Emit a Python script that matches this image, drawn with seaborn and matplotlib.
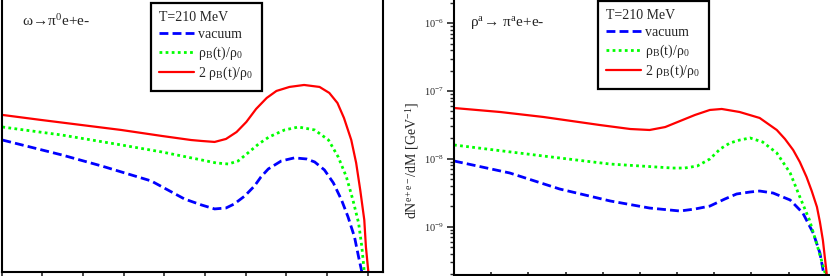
import numpy as np
import pandas as pd
import matplotlib
matplotlib.use('Agg')
import matplotlib.pyplot as plt
from matplotlib.lines import Line2D
from matplotlib.ticker import LogLocator, NullFormatter, MultipleLocator, FixedLocator
import seaborn as sns

# left panel: omega -> pi0 e+e-, M in GeV, dN/dM
om_vac_M = [0.201, 0.274, 0.323, 0.384, 0.425, 0.446, 0.462, 0.476, 0.486, 0.499, 0.511, 0.519, 0.528,
            0.544, 0.560, 0.575, 0.585, 0.597, 0.608, 0.618, 0.626, 0.634, 0.639, 0.643, 0.645]
om_vac_y = [1.89e-8, 1.14e-8, 7.83e-9, 4.71e-9, 2.55e-9, 2.08e-9, 1.82e-9, 1.88e-9, 2.15e-9, 2.82e-9, 3.97e-9,
            5.40e-9, 7.08e-9, 9.29e-9, 1.03e-8, 9.93e-9, 8.97e-9, 6.84e-9, 4.40e-9, 2.47e-9, 1.39e-9,
            7.0e-10, 3.56e-10, 2.14e-10, 1.2e-10]
om_rho_M = [0.201, 0.274, 0.347, 0.397, 0.446, 0.464, 0.479, 0.491, 0.503, 0.516, 0.529, 0.548, 0.565,
            0.585, 0.602, 0.614, 0.624, 0.632, 0.639, 0.643, 0.646, 0.648]
om_rho_y = [2.94e-8, 2.24e-8, 1.60e-8, 1.26e-8, 9.6e-9, 8.67e-9, 8.37e-9, 9.29e-9, 1.22e-8, 1.65e-8, 2.10e-8,
            2.66e-8, 2.94e-8, 2.66e-8, 1.89e-8, 1.06e-8, 5.4e-9, 2.47e-9, 1.13e-9, 5.0e-10, 2.14e-10, 1.2e-10]
om_2rho_M = [0.201, 0.249, 0.298, 0.347, 0.397, 0.433, 0.446, 0.462, 0.476, 0.489, 0.501, 0.513, 0.526,
             0.538, 0.554, 0.572, 0.591, 0.603, 0.613, 0.621, 0.630, 0.636, 0.641, 0.646, 0.648, 0.651, 0.653]
om_2rho_y = [4.43e-8, 3.73e-8, 3.15e-8, 2.66e-8, 2.17e-8, 1.89e-8, 1.83e-8, 1.77e-8, 1.96e-8, 2.48e-8, 3.49e-8,
             5.43e-8, 7.88e-8, 1.0e-7, 1.146e-7, 1.225e-7, 1.146e-7, 9.35e-8, 6.65e-8, 4.0e-8, 1.89e-8,
             8.67e-9, 3.47e-9, 1.25e-9, 5.0e-10, 2.14e-10, 1.2e-10]

# right panel: rho^a -> pi^a e+e-
rh_vac_M = [0.100, 0.175, 0.242, 0.310, 0.363, 0.404, 0.424, 0.444, 0.464, 0.480, 0.498, 0.511, 0.529,
            0.552, 0.569, 0.583, 0.592, 0.597, 0.599]
rh_vac_y = [9.29e-9, 6.18e-9, 3.59e-9, 2.39e-9, 1.88e-9, 1.70e-9, 1.82e-9, 2.01e-9, 2.55e-9, 3.03e-9, 3.24e-9,
            3.35e-9, 3.13e-9, 2.47e-9, 1.59e-9, 8.05e-10, 4.08e-10, 2.07e-10, 1.2e-10]
rh_rho_M = [0.100, 0.220, 0.310, 0.394, 0.410, 0.427, 0.444, 0.458, 0.471, 0.484, 0.498, 0.515, 0.534,
            0.552, 0.565, 0.578, 0.589, 0.599, 0.601]
rh_rho_y = [1.60e-8, 1.10e-8, 8.37e-9, 7.31e-9, 7.31e-9, 7.83e-9, 9.93e-9, 1.40e-8, 1.71e-8, 1.89e-8, 2.03e-8,
            1.77e-8, 1.22e-8, 6.18e-9, 2.74e-9, 1.25e-9, 5.0e-10, 2.07e-10, 1.2e-10]
rh_2rho_M = [0.100, 0.162, 0.220, 0.296, 0.337, 0.363, 0.384, 0.404, 0.424, 0.444, 0.460, 0.484, 0.511,
             0.534, 0.545, 0.556, 0.565, 0.574, 0.581, 0.588, 0.592, 0.596, 0.601, 0.603]
rh_2rho_y = [5.61e-8, 4.90e-8, 4.14e-8, 3.15e-8, 2.75e-8, 2.66e-8, 2.94e-8, 3.61e-8, 4.43e-8, 5.25e-8, 5.43e-8,
             4.90e-8, 4.00e-8, 2.66e-8, 1.96e-8, 1.35e-8, 8.97e-9, 5.40e-9, 3.35e-9, 1.95e-9, 1.17e-9,
             6.3e-10, 2.07e-10, 1.2e-10]

right_yticks = [1e-9, 1e-8, 1e-7, 1e-6]

cases = ['vacuum', 'ρ$_\\mathregular{B}$(t)/ρ$_\\mathregular{0}$', '2 ρ$_\\mathregular{B}$(t)/ρ$_\\mathregular{0}$']
colors = dict(zip(cases, ['#0000ff', '#00ff00', '#ff0000']))
widths = dict(zip(cases, [2.0, 2.0, 1.6]))
dashes = dict(zip(cases, [(3.2, 1.5), (1, 1.2), '']))


def make_df(Ms, ys):
    parts = []
    for c, m, y in zip(cases, Ms, ys):
        parts.append(pd.DataFrame({'M': m, 'rate': y, 'case': c}))
    return pd.concat(parts, ignore_index=True)


sns.set_style('ticks')
plt.rcParams['font.family'] = ['Liberation Serif', 'DejaVu Serif']
plt.rcParams['mathtext.fontset'] = 'stix'

W, H = 830, 276
fig = plt.figure(figsize=(W / 100, H / 100), dpi=100)
ax1 = fig.add_axes([1.5 / W, 1 - 271.7 / H, 381.5 / W, 276.7 / H])
ax2 = fig.add_axes([454 / W, 1 - 274.5 / H, 386 / W, 279.5 / H])

df1 = make_df([om_vac_M, om_rho_M, om_2rho_M], [om_vac_y, om_rho_y, om_2rho_y])
df2 = make_df([rh_vac_M, rh_rho_M, rh_2rho_M], [rh_vac_y, rh_rho_y, rh_2rho_y])

for ax, df in [(ax1, df1), (ax2, df2)]:
    sns.lineplot(data=df, x='M', y='rate', hue='case', style='case', size='case',
                 palette=colors, dashes=dashes, sizes=widths, sort=False,
                 legend=False, ax=ax)
    ax.set_yscale('log')
    ax.set_xlabel('')
    ax.set_ylabel('')
    ax.xaxis.set_major_locator(MultipleLocator(0.05))
    ax.yaxis.set_minor_locator(LogLocator(base=10, subs=np.arange(2, 10)))
    ax.yaxis.set_minor_formatter(NullFormatter())
    for s in ax.spines.values():
        s.set_linewidth(1.5)
        s.set_color('black')

ax1.set_xlim(0.2, 0.669)
ax1.set_ylim(2.16e-10, 2.6e-6)
ax1.tick_params(axis='x', direction='out', length=5, width=1.2, labelbottom=False)
ax1.tick_params(axis='y', which='both', length=0, labelleft=False)

ax2.set_xlim(0.1, 0.619)
ax2.set_ylim(1.97e-10, 2.6e-6)
ax2.yaxis.set_major_locator(FixedLocator(right_yticks))
ax2.spines['right'].set_visible(False)
ax2.tick_params(axis='x', direction='inout', length=5, width=1.2, labelbottom=False)
ax2.tick_params(axis='y', which='major', direction='out', length=5, width=1.2, labelsize=7.5, pad=2)
ax2.tick_params(axis='y', which='minor', direction='out', length=3, width=1.0)

handles = [Line2D([], [], color=colors[c], lw=widths[c],
                  linestyle=(0, dashes[c]) if dashes[c] else '-') for c in cases]
for ax, x0, y0 in [(ax1, 151, 3), (ax2, 598, 1)]:
    leg = ax.legend(handles, cases, title='T=210 MeV', loc='upper left',
                    bbox_to_anchor=(x0 / W, 1 - y0 / H), bbox_transform=fig.transFigure,
                    borderaxespad=0, fancybox=False, edgecolor='black', framealpha=1,
                    fontsize=10, title_fontsize=10, handlelength=2.5, handletextpad=0.3,
                    labelspacing=0.25, borderpad=0.6, alignment='left')
    leg.get_frame().set_linewidth(1.6)

fig.text(22 / W, 1 - 26 / H, 'ω→π$^\\mathregular{0}$e+e-', fontsize=11, va='baseline')
fig.text(470 / W, 1 - 27 / H, 'ρ$^\\mathregular{a}$→ π$^\\mathregular{a}$e+e-', fontsize=11, va='baseline')
fig.text(412 / W, 1 - 160 / H, 'dN$^\\mathregular{e+e-}$/dM [GeV$^\\mathregular{-1}$]', fontsize=10,
         rotation=90, ha='center', va='center')

fig.savefig('out.png', dpi=100)
